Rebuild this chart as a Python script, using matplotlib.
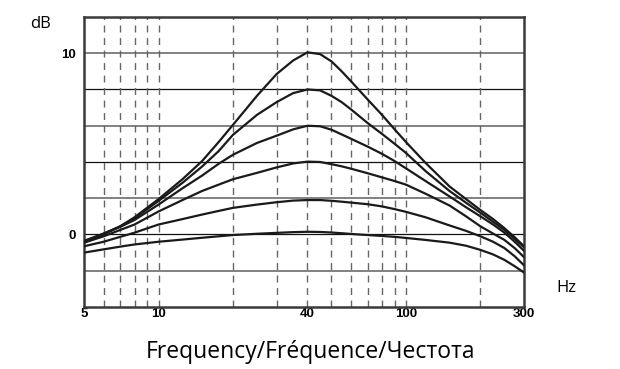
import numpy as np
import matplotlib
matplotlib.use("Agg")
import matplotlib.pyplot as plt

freq = [5, 6, 7, 8, 10, 12.5, 15, 17.5, 20, 25, 30, 35, 40, 45, 50, 55, 60, 70, 80, 90,
        100, 120, 150, 175, 200, 225, 250, 275, 300]

# response curves (dB), one per boost setting
c10 = [-0.45, 0.0, 0.45, 0.95, 1.95, 3.05, 4.05, 5.1, 6.05, 7.65, 8.85, 9.6, 10.05, 9.95, 9.55,
       9.0, 8.45, 7.45, 6.6, 5.8, 5.1, 3.95, 2.65, 1.95, 1.35, 0.85, 0.35, -0.15, -0.65]
c8 = [-0.4, 0.05, 0.45, 0.9, 1.85, 2.85, 3.75, 4.6, 5.5, 6.6, 7.3, 7.8, 8.0, 7.95, 7.65,
      7.3, 6.9, 6.15, 5.55, 5.0, 4.5, 3.5, 2.4, 1.75, 1.2, 0.7, 0.25, -0.25, -0.7]
c6 = [-0.35, 0.05, 0.42, 0.8, 1.65, 2.55, 3.25, 3.9, 4.4, 5.05, 5.45, 5.8, 6.0, 5.97, 5.78,
      5.52, 5.28, 4.85, 4.45, 4.05, 3.65, 2.95, 2.1, 1.5, 1.0, 0.55, 0.1, -0.4, -0.9]
c4 = [-0.45, -0.1, 0.25, 0.55, 1.27, 1.9, 2.4, 2.75, 3.05, 3.4, 3.7, 3.92, 4.02, 4.0, 3.88,
      3.76, 3.63, 3.38, 3.15, 2.95, 2.75, 2.25, 1.6, 1.0, 0.45, 0.05, -0.3, -0.75, -1.25]
c2 = [-0.65, -0.4, -0.13, 0.1, 0.55, 0.85, 1.1, 1.3, 1.47, 1.65, 1.78, 1.87, 1.9, 1.9, 1.86,
      1.81, 1.76, 1.67, 1.55, 1.4, 1.25, 0.95, 0.5, 0.2, -0.1, -0.4, -0.75, -1.2, -1.7]
c0 = [-1.0, -0.82, -0.67, -0.55, -0.4, -0.28, -0.18, -0.1, -0.03, 0.04, 0.09, 0.13, 0.15, 0.14, 0.11,
      0.07, 0.03, -0.03, -0.08, -0.13, -0.19, -0.3, -0.45, -0.62, -0.85, -1.1, -1.4, -1.75, -2.1]

grid_db = [-2, 0, 2, 4, 6, 8, 10]
grid_hz = [6, 7, 8, 9, 10, 20, 30, 40, 50, 60, 70, 80, 90, 100, 200]
xticks = [5, 10, 40, 100, 300]
yticks = [0, 10]

fig = plt.figure(figsize=(6.2, 3.69), dpi=100)
ax = fig.add_axes([0.1355, 0.168, 0.7097, 0.786])
ax.set_xscale("log")
ax.set_xlim(5, 300)
ax.set_ylim(-4, 12)

# grid
for g in grid_db:
    if g in (8, 4, 0):
        ax.axhline(g, color="#111111", lw=0.9, zorder=1)
    else:
        ax.axhline(g, color="#777777", lw=1.3, zorder=1)
for g in grid_hz:
    ax.axvline(g, color="#666666", lw=1.0, ls=(0, (5, 4)), zorder=1)

for c in [c10, c8, c6, c4, c2, c0]:
    ax.plot(freq, c, color="#1a1a1a", lw=1.6, zorder=3, solid_joinstyle="round")

ax.set_xticks(xticks)
ax.set_xticklabels([str(t) for t in xticks])
ax.xaxis.set_minor_locator(plt.NullLocator())
ax.set_yticks(yticks)
ax.set_yticklabels([str(t) for t in yticks])
ax.tick_params(length=0, labelsize=9.5, pad=1)
for lab in ax.get_xticklabels() + ax.get_yticklabels():
    lab.set_fontweight("bold")
    lab.set_family("Liberation Sans")
ax.tick_params(axis="y", pad=6)

for s in ax.spines.values():
    s.set_color("#3a3a3a")
    s.set_linewidth(1.8)

fig.text(0.065, 0.935, "dB", fontsize=12, family="Open Sans", ha="center", va="center")
fig.text(0.914, 0.22, "Hz", fontsize=12, family="Open Sans", ha="center", va="center")
fig.text(0.5, 0.046, "Frequency/Fréquence/Честота", fontsize=16.5, family="Open Sans",
         ha="center", va="center")

fig.savefig("out.png", dpi=100)
